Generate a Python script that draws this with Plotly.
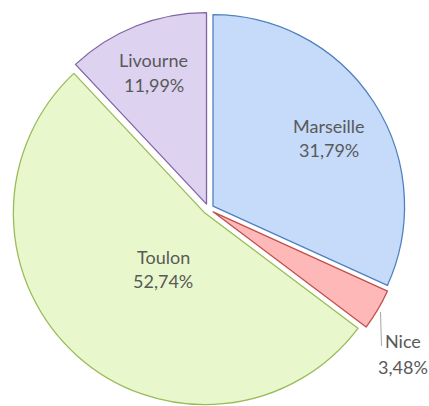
import plotly.graph_objects as go

labels = ["Marseille", "Nice", "Toulon", "Livourne"]
values = [31.79, 3.48, 52.74, 11.99]
pct_text = ["31,79%", "3,48%", "52,74%", "11,99%"]

fills = ["#C6DAFA", "#FFB8B8", "#E8F8CC", "#DDD2EF"]
borders = ["#4F81BD", "#C0504D", "#9BBB59", "#8064A2"]

W, H = 429, 406
# label positions in pixels (x centre, name line y, percent line y)
label_px_x = [329, 403, 163, 153.5]
name_px_y = [126, 341, 257, 60]
pct_px_y = [150, 367, 281, 85]

font = dict(family="Lato, Open Sans, sans-serif", size=18, color="#595959")

fig = go.Figure(go.Pie(
    labels=labels,
    values=values,
    textinfo="none",
    sort=False,
    direction="clockwise",
    rotation=0,
    pull=[0.028] * 4,
    marker=dict(colors=fills, line=dict(color=borders, width=1.3)),
    hoverinfo="label+percent",
    showlegend=False,
    domain=dict(x=[0, 0.972], y=[0, 0.97]),
))

for l, p, x, y1, y2 in zip(labels, pct_text, label_px_x, name_px_y, pct_px_y):
    for txt, yy in ((l, y1), (p, y2)):
        fig.add_annotation(x=x / W, y=1 - yy / H, xref="paper", yref="paper", text=txt,
                           xanchor="center", yanchor="middle",
                           showarrow=False, font=font, align="center")

# leader line for Nice
fig.add_shape(type="line", xref="paper", yref="paper",
              x0=380.5 / W, y0=1 - 312 / H, x1=381.5 / W, y1=1 - 346 / H,
              line=dict(color="#A6A6A6", width=1))

fig.update_layout(
    width=W, height=H,
    margin=dict(l=0, r=0, t=0, b=0),
    paper_bgcolor="white",
    plot_bgcolor="white",
)

fig.write_html("out.html",
               config={"displayModeBar": False},
               post_script="document.body.style.margin='0';document.body.style.overflow='hidden';")
